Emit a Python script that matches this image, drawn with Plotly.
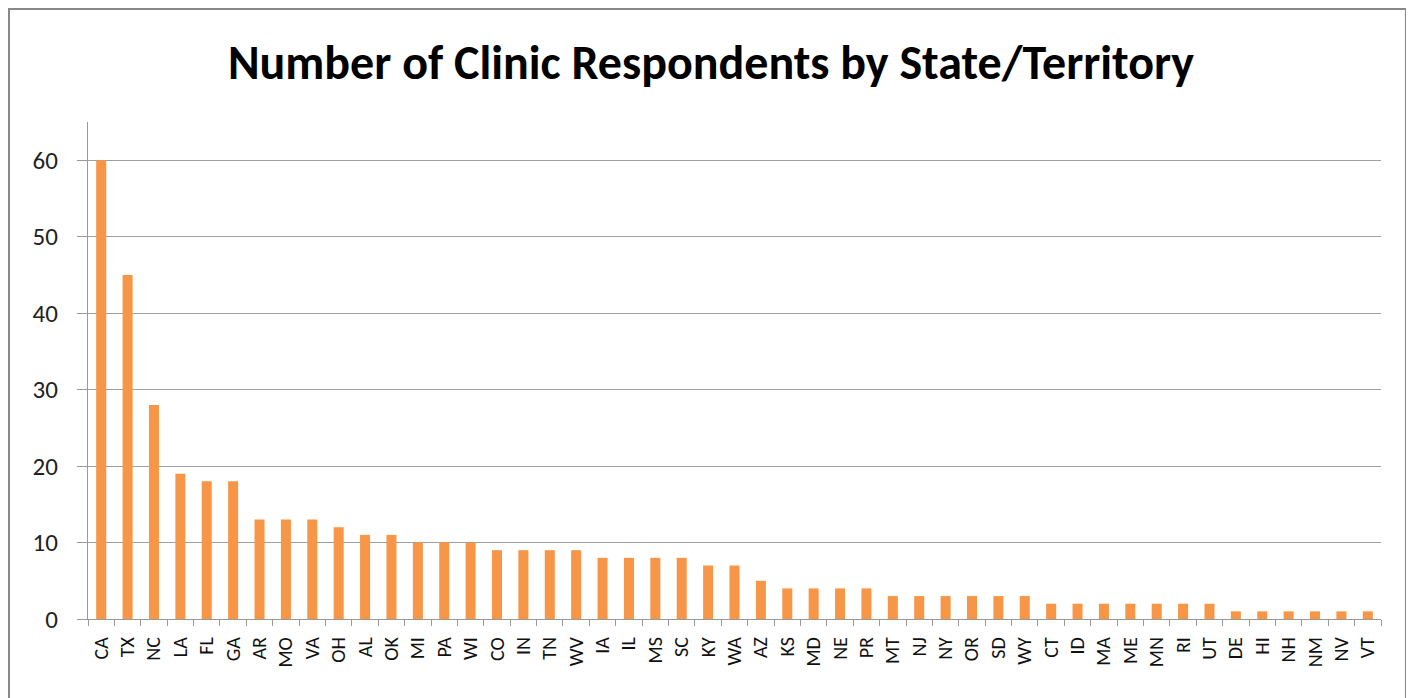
import plotly.graph_objects as go

states = ["CA", "TX", "NC", "LA", "FL", "GA", "AR", "MO", "VA", "OH", "AL", "OK", "MI", "PA", "WI",
          "CO", "IN", "TN", "WV", "IA", "IL", "MS", "SC", "KY", "WA", "AZ", "KS", "MD", "NE", "PR",
          "MT", "NJ", "NY", "OR", "SD", "WY", "CT", "ID", "MA", "ME", "MN", "RI", "UT", "DE", "HI",
          "NH", "NM", "NV", "VT"]
respondents = [60, 45, 28, 19, 18, 18, 13, 13, 13, 12, 11, 11, 10, 10, 10,
               9, 9, 9, 9, 8, 8, 8, 8, 7, 7, 5, 4, 4, 4, 4,
               3, 3, 3, 3, 3, 3, 2, 2, 2, 2, 2, 2, 2, 1, 1,
               1, 1, 1, 1]
y_ticks = [0, 10, 20, 30, 40, 50, 60]
title = "Number of Clinic Respondents by State/Territory"

fig = go.Figure(go.Bar(x=states, y=respondents, marker_color="#F79646",
                       marker_line_width=0, width=0.38))

fig.update_layout(
    width=1406, height=690,
    margin=dict(l=80, r=33, t=114, b=79),
    paper_bgcolor="white", plot_bgcolor="white",
    showlegend=False,
    title=dict(text="<b>" + title + "</b>", x=0.5, xanchor="center", y=0.9217, yanchor="middle",
               font=dict(family="Carlito, Open Sans, Liberation Sans", size=48, color="black")),
    font=dict(family="Carlito, Liberation Sans, Arial", color="#111"),
    xaxis=dict(type="category", tickangle=-90, tickfont=dict(size=20, color="#111"),
               showline=True, linecolor="#999", linewidth=1.3,
               ticks="outside", tickson="boundaries", ticklen=6, tickcolor="#999",
               showgrid=False, range=[-0.5, len(states) - 0.5], ticklabelstandoff=9),
    yaxis=dict(range=[0, 65], tickvals=y_ticks, tickfont=dict(size=25, color="#222"),
               showline=True, linecolor="#999", linewidth=1.3,
               ticks="outside", ticklen=10, tickcolor="#999",
               showgrid=True, gridcolor="#a0a0a0", gridwidth=1.3, zeroline=False,
               ticklabelstandoff=14),
    shapes=[dict(type="rect", xref="paper", yref="paper",
                 x0=-0.0611, x1=1.0193, y0=-0.179, y1=1.2274,
                 line=dict(color="#888", width=2), fillcolor="rgba(0,0,0,0)")],
)

fig.write_html("out.html")
